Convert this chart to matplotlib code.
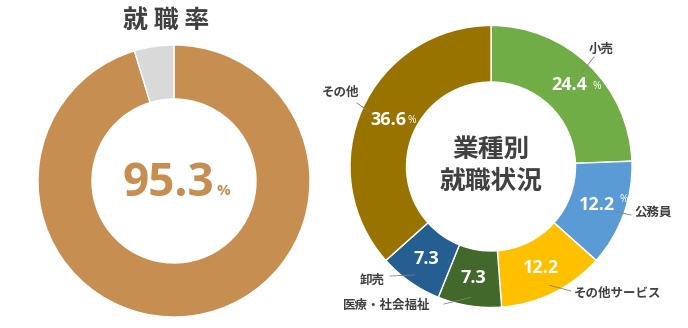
import numpy as np
import matplotlib.pyplot as plt

plt.rcParams['font.family'] = ['Noto Sans CJK JP', 'DejaVu Sans']

# 就職率
rate_labels = ['就職', '未就職']
rate_values = [95.3, 4.7]
rate_colors = ['#C68E51', '#D9D9D9']

# 業種別就職状況
industries = ['小売', '公務員', 'その他サービス', '医療・社会福祉', '卸売', 'その他']
shares = [24.4, 12.2, 12.2, 7.3, 7.3, 36.6]
show_pct = [True, True, False, False, False, True]
ind_colors = ['#70AD47', '#5B9BD5', '#FFC000', '#43682B', '#255E91', '#997300']

W, H = 688, 328
dark = '#404040'
num_font = ['Open Sans', 'DejaVu Sans']

def Y(y):
    return H - y

fig = plt.figure(figsize=(W / 100, H / 100), dpi=100)
ax = fig.add_axes([0, 0, 1, 1])

# left donut
c1, r1 = (174, Y(181)), 136
ax.pie(rate_values, colors=rate_colors, startangle=90, counterclock=False,
       radius=r1, center=c1,
       wedgeprops=dict(width=54, edgecolor='white', linewidth=1))
ax.text(166, Y(21), '就 職 率', ha='center', va='center', fontsize=18,
        fontweight='bold', color=dark)
t = ax.text(c1[0] - 6, Y(184), f'{rate_values[0]}', ha='center', va='center',
            fontsize=33, fontweight='bold', color=rate_colors[0], family=num_font)
ax.annotate('%', xy=(1, 0.2), xycoords=t, xytext=(2, 0), textcoords='offset points',
            ha='left', va='bottom', fontsize=11, fontweight='bold', color=rate_colors[0],
            family=num_font)

# right donut
c2, r2 = (491, Y(166.5)), 141
wedges, _ = ax.pie(shares, colors=ind_colors, startangle=90, counterclock=False,
                   radius=r2, center=c2,
                   wedgeprops=dict(width=56.5, edgecolor='white', linewidth=1))
ax.text(c2[0], c2[1] + 1, '業種別\n就職状況', ha='center', va='center', fontsize=18.5,
        fontweight='bold', color=dark, linespacing=1.2)

# label layout (pixels from top-left)
lab_pos = [(601, 49, 'center'), (634, 212, 'left'), (574, 293, 'left'),
           (430, 305, 'right'), (385, 280, 'right'), (359, 92, 'right')]
lead_end = [(594, 57), (631, 215), (571, 291), (444, 304), (390, 276), (357, 103)]
pct_gap = [4, 3, 0, 0, 0, 1]
pct_dy = [-1, 4, 0, 0, 0, 0]

r_mid = r2 - 56.5 / 2
for w, name, val, sp, (lx, ly, ha), (ex, ey), gx, dy in zip(
        wedges, industries, shares, show_pct, lab_pos, lead_end, pct_gap, pct_dy):
    a = np.deg2rad((w.theta1 + w.theta2) / 2)
    x = c2[0] + r_mid * np.cos(a)
    y = c2[1] + r_mid * np.sin(a)
    t = ax.text(x, y, f'{val}', ha='center', va='center', fontsize=13,
                fontweight='bold', color='white', family=num_font)
    if sp:
        ax.annotate('%', xy=(1, 0.2), xycoords=t, xytext=(gx, dy), textcoords='offset points',
                    ha='left', va='bottom', fontsize=7.5, color='white', family=num_font)
    sx = c2[0] + 0.94 * r2 * np.cos(a)
    sy = c2[1] + 0.94 * r2 * np.sin(a)
    ax.plot([sx, ex], [sy, Y(ey)], color='#808080', lw=0.6)
    ax.text(lx, Y(ly), name, ha=ha, va='center', fontsize=9, fontweight='bold', color=dark)

ax.set_xlim(0, W)
ax.set_ylim(0, H)
ax.set_aspect('equal')
ax.axis('off')

fig.savefig('out.png', dpi=100)
